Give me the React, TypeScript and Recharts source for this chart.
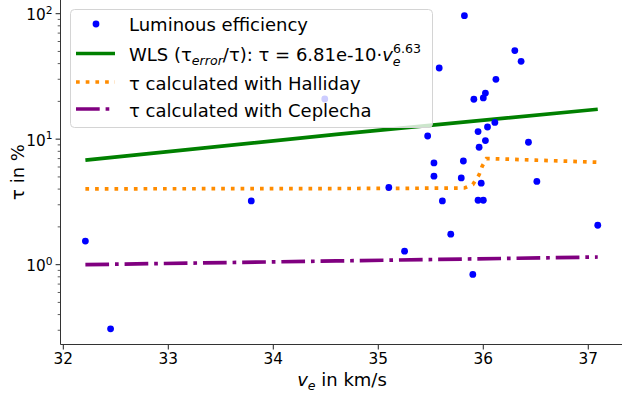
import { ComposedChart, Line, Scatter, XAxis, YAxis } from "recharts"

// measured luminous efficiency points (v_e in km/s, tau in %)
const velocity = [
    32.21, 32.45, 33.79, 34.49, 35.1, 35.82, 36.3, 36.36, 35.58, 36.12, 36.02, 36.0, 35.91, 36.11, 36.04, 35.95, 35.47,
    36.02, 36.43, 35.96, 35.81, 35.53, 35.79, 35.53, 35.98, 36.51, 35.61, 35.95, 36.0, 35.69, 35.25, 35.9, 37.09,
]
const tau = [
    1.54, 0.308, 3.22, 20.9, 4.12, 96.4, 50.8, 41.7, 36.9, 30.0, 23.3, 21.3, 20.8, 13.6, 12.5, 11.5, 10.6, 9.75, 9.45,
    8.62, 6.7, 6.46, 4.91, 5.07, 4.46, 4.6, 3.22, 3.26, 3.26, 1.75, 1.28, 0.836, 2.06,
]

// WLS fit curve
const wlsV = [32.21, 34.6, 37.09]
const wlsTau = [6.8, 10.9, 17.3]

// Halliday
const hallidayV = [32.21, 33.79, 35.1, 35.82, 35.9, 35.96, 35.99, 36.03, 36.3, 36.5, 37.09]
const hallidayTau = [4.02, 4.03, 4.05, 4.08, 4.35, 5.2, 6.1, 7.0, 6.9, 6.8, 6.55]

// Ceplecha
const ceplechaV = [32.21, 34.6, 37.09]
const ceplechaTau = [1.0, 1.07, 1.15]

const xTicks = [32, 33, 34, 35, 36, 37]
const yMajor = [1, 10, 100]
const yMinor = [0.3, 0.4, 0.5, 0.6, 0.7, 0.8, 0.9, 2, 3, 4, 5, 6, 7, 8, 9, 20, 30, 40, 50, 60, 70, 80, 90]

const points = velocity.map((v, i) => ({ x: v, y: tau[i] }))
const wls = wlsV.map((v, i) => ({ x: v, y: wlsTau[i] }))
const halliday = hallidayV.map((v, i) => ({ x: v, y: hallidayTau[i] }))
const ceplecha = ceplechaV.map((v, i) => ({ x: v, y: ceplechaTau[i] }))

const FONT = "DejaVu Sans"
const PLOT_LEFT = 60.5
const PLOT_BOTTOM = 344.5
const AXIS = "#333"

const XTick = (props: any) => {
    const { x, payload } = props
    return (
        <g>
            <line x1={x} x2={x} y1={PLOT_BOTTOM} y2={PLOT_BOTTOM + 4.9} stroke={AXIS} strokeWidth={1.1} />
            <text x={x} y={364} textAnchor="middle" fontSize={15.3} fontFamily={FONT} fill="#000">
                {payload.value}
            </text>
        </g>
    )
}

const YTick = (props: any) => {
    const { y, payload } = props
    const major = yMajor.includes(payload.value)
    if (!major) {
        return <line x1={PLOT_LEFT - 2.8} x2={PLOT_LEFT} y1={y} y2={y} stroke={AXIS} strokeWidth={0.8} />
    }
    const exp = Math.round(Math.log10(payload.value))
    return (
        <g>
            <line x1={PLOT_LEFT - 4.9} x2={PLOT_LEFT} y1={y} y2={y} stroke={AXIS} strokeWidth={1.1} />
            <text x={PLOT_LEFT - 8} y={y + 6.5} textAnchor="end" fontSize={15.3} fontFamily={FONT} fill="#000">
                10
                <tspan fontSize={10.7} dy={-6.5}>
                    {exp}
                </tspan>
            </text>
        </g>
    )
}

const Dot = (props: any) => <circle cx={props.cx} cy={props.cy} r={3.4} fill="#0000ff" />

function LegendBox() {
    const fs = 18
    return (
        <svg width={622} height={400} style={{ position: "absolute", left: 0, top: 0, pointerEvents: "none" }}>
            <rect
                x={70.5}
                y={9.5}
                width={362}
                height={118}
                rx={4}
                fill="#ffffff"
                fillOpacity={0.8}
                stroke="#d4d4d4"
            />
            <circle cx={96} cy={24} r={3.4} fill="#0000ff" />
            <line x1={76} x2={115} y1={53.5} y2={53.5} stroke="#008000" strokeWidth={3.7} />
            <line x1={76} x2={115} y1={82} y2={82} stroke="#ff8c00" strokeWidth={3.7} strokeDasharray="3.7 6" />
            <line
                x1={76}
                x2={115}
                y1={109}
                y2={109}
                stroke="#800080"
                strokeWidth={3.7}
                strokeDasharray="23.7 5.9 3.7 5.9"
            />
            <g fontFamily={FONT} fontSize={fs} fill="#000">
                <text x={129} y={31}>
                    Luminous efficiency
                </text>
                <text x={129} y={61}>
                    WLS (τ
                    <tspan fontSize={12.6} fontStyle="italic" dy={4}>
                        error
                    </tspan>
                    <tspan dy={-4}>/τ): τ = 6.81e-10·</tspan>
                    <tspan fontStyle="italic">v</tspan>
                    <tspan fontSize={12.6} fontStyle="italic" dy={4.5}>
                        e
                    </tspan>
                    <tspan fontSize={12.6} dx={-7.7} dy={-12.5}>
                        6.63
                    </tspan>
                </text>
                <text x={129} y={90}>
                    τ calculated with Halliday
                </text>
                <text x={129} y={116.5}>
                    τ calculated with Ceplecha
                </text>
            </g>
        </svg>
    )
}

export default function App() {
    return (
        <div style={{ position: "absolute", left: 0, top: 0, width: 622, height: 400, overflow: "hidden", background: "#fff" }}>
            <ComposedChart width={624} height={400} margin={{ top: 0, right: 0, bottom: 0, left: 0 }}>
                <XAxis
                    xAxisId="top"
                    orientation="top"
                    dataKey="x"
                    type="number"
                    domain={[31.973, 37.34]}
                    allowDataOverflow
                    height={0}
                    tick={false}
                    tickLine={false}
                    axisLine={{ stroke: AXIS, strokeWidth: 1 }}
                />
                <XAxis
                    dataKey="x"
                    type="number"
                    domain={[31.973, 37.34]}
                    allowDataOverflow
                    ticks={xTicks}
                    height={55.5}
                    tickLine={false}
                    tick={<XTick />}
                    axisLine={{ stroke: AXIS, strokeWidth: 1 }}
                />
                <YAxis
                    dataKey="y"
                    type="number"
                    scale="log"
                    domain={[0.231, 128.5]}
                    allowDataOverflow
                    ticks={[...yMinor, ...yMajor].sort((a, b) => a - b)}
                    width={60.5}
                    tickLine={false}
                    tick={<YTick />}
                    interval={0}
                    axisLine={{ stroke: AXIS, strokeWidth: 1 }}
                />
                <Scatter data={points} dataKey="y" shape={<Dot />} isAnimationActive={false} />
                <Line
                    data={wls}
                    dataKey="y"
                    type="linear"
                    stroke="#008000"
                    strokeWidth={3.7}
                    dot={false}
                    activeDot={false}
                    isAnimationActive={false}
                />
                <Line
                    data={halliday}
                    dataKey="y"
                    type="linear"
                    stroke="#ff8c00"
                    strokeWidth={3.7}
                    strokeDasharray="3.7 6"
                    dot={false}
                    activeDot={false}
                    isAnimationActive={false}
                />
                <Line
                    data={ceplecha}
                    dataKey="y"
                    type="linear"
                    stroke="#800080"
                    strokeWidth={3.7}
                    strokeDasharray="23.7 5.9 3.7 5.9"
                    dot={false}
                    activeDot={false}
                    isAnimationActive={false}
                />
                <text x={342} y={386} textAnchor="middle" fontFamily={FONT} fontSize={18} fill="#000">
                    <tspan fontStyle="italic">v</tspan>
                    <tspan fontSize={12.6} fontStyle="italic" dy={4}>
                        e
                    </tspan>
                    <tspan dy={-4}> in km/s</tspan>
                </text>
                <text
                    x={24}
                    y={172}
                    transform="rotate(-90 24 172)"
                    textAnchor="middle"
                    fontFamily={FONT}
                    fontSize={18}
                    fill="#000"
                >
                    τ in %
                </text>
            </ComposedChart>
            <LegendBox />
        </div>
    )
}
